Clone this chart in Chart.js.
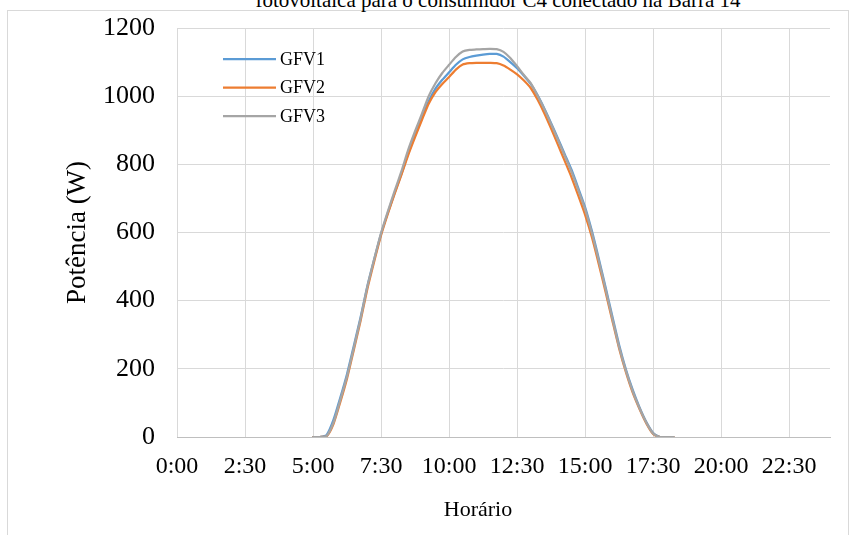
<!DOCTYPE html>
<html>
<head>
<meta charset="utf-8">
<script src="https://cdn.jsdelivr.net/npm/chart.js@4/dist/chart.umd.min.js"></script>
<style>
  html, body { margin: 0; padding: 0; background: #fff; overflow: hidden; }
  #wrap { position: relative; width: 864px; height: 535px; overflow: hidden; }
  #frame { position: absolute; left: 7px; top: 10px; width: 842px; height: 560px; border: 1px solid #d9d9d9; box-sizing: border-box; }
  #titulo { position: absolute; left: 0; top: -12px; width: 996px; text-align: center; white-space: nowrap;
            font-family: "Liberation Serif", serif; font-size: 21px; line-height: 24px; color: #000; }
  #grafico { position: absolute; left: 0; top: 0; }
</style>
</head>
<body>
<div id="wrap">
  <div id="frame"></div>
  <div id="titulo">fotovoltaica para o consumidor C4 conectado na Barra 14</div>
  <canvas id="grafico" width="864" height="535"></canvas>
</div>
<script>
// eixo x em minutos, pontos a cada 15 min a partir das 5:00
const inicioMin = 300;
const passoMin = 15;
const ticksHorario = ['0:00', '2:30', '5:00', '7:30', '10:00', '12:30', '15:00', '17:30', '20:00', '22:30'];
const ticksPotencia = [0, 200, 400, 600, 800, 1000, 1200];

const gfv1 = [0, 0, 6, 50, 115, 185, 268, 352, 444, 522, 596, 658, 716, 772, 832, 885, 935, 985, 1022, 1048,
  1070, 1092, 1108, 1115, 1119, 1122, 1124, 1124, 1116, 1100, 1082, 1060, 1036, 1003, 964, 921, 876, 830, 784,
  730, 674, 604, 524, 440, 354, 270, 198, 138, 87, 44, 12, 0, 0, 0];
const gfv2 = [0, 0, 2, 38, 102, 172, 256, 342, 436, 516, 592, 655, 714, 770, 828, 880, 930, 978, 1012, 1036,
  1056, 1078, 1093, 1097, 1098, 1098, 1098, 1097, 1090, 1078, 1064, 1046, 1024, 990, 950, 905, 858, 810, 762,
  708, 652, 586, 508, 426, 342, 260, 190, 130, 82, 40, 9, 0, 0, 0];
const gfv3 = [0, 0, 3, 42, 108, 178, 262, 348, 442, 522, 598, 662, 722, 780, 843, 897, 948, 1000, 1038, 1068,
  1092, 1115, 1131, 1136, 1137, 1138, 1139, 1138, 1130, 1112, 1088, 1062, 1038, 1002, 962, 918, 872, 825, 778,
  724, 668, 598, 518, 434, 348, 264, 194, 134, 84, 42, 10, 0, 0, 0];

const nomes = ['GFV1', 'GFV2', 'GFV3'];
const cores = ['#5B9BD5', '#ED7D31', '#A5A5A5'];
const tituloX = 'Horário';

const pontos = (serie) => serie.map((v, i) => ({ x: inicioMin + i * passoMin, y: v }));
const fonte = "'Liberation Serif', 'Times New Roman', serif";

// legenda dentro da área do gráfico + título do eixo x (deslocado, como no original)
const extras = {
  id: 'extras',
  afterDraw(chart) {
    const ctx = chart.ctx;
    ctx.save();
    ctx.font = '18px ' + fonte;
    ctx.textBaseline = 'middle';
    ctx.fillStyle = '#000';
    chart.data.datasets.forEach((ds, i) => {
      const y = 59 + i * 28.5;
      ctx.strokeStyle = ds.borderColor;
      ctx.lineWidth = 2.25;
      ctx.beginPath();
      ctx.moveTo(223, y);
      ctx.lineTo(276, y);
      ctx.stroke();
      ctx.fillText(ds.label, 280, y + 1);
    });
    ctx.font = '22px ' + fonte;
    ctx.textAlign = 'center';
    ctx.fillText(tituloX, 478, 510);
    ctx.restore();
  }
};

const ctx = document.getElementById('grafico').getContext('2d');
new Chart(ctx, {
  type: 'line',
  data: {
    datasets: [
      { label: nomes[0], data: pontos(gfv1), borderColor: cores[0], order: 3 },
      { label: nomes[1], data: pontos(gfv2), borderColor: cores[1], order: 2 },
      { label: nomes[2], data: pontos(gfv3), borderColor: cores[2], order: 1 }
    ]
  },
  options: {
    responsive: false,
    animation: false,
    devicePixelRatio: 1,
    layout: { padding: { left: 60, top: 28, right: 34, bottom: 8 } },
    elements: {
      point: { radius: 0 },
      line: { borderWidth: 2.25, tension: 0.2, fill: false, borderCapStyle: 'round', borderJoinStyle: 'round' }
    },
    plugins: {
      legend: { display: false },
      tooltip: { enabled: false }
    },
    scales: {
      x: {
        type: 'linear',
        min: 0,
        max: 1440,
        afterBuildTicks: (s) => { s.ticks = ticksHorario.map((t, i) => ({ value: i * 150 })); },
        afterFit: (s) => { s.height = 90; s.paddingLeft = 0; s.paddingRight = 0; },
        grid: { color: '#d9d9d9', lineWidth: 1, drawTicks: false },
        border: { color: '#bfbfbf', width: 1 },
        ticks: {
          color: '#000',
          font: { family: fonte, size: 24 },
          padding: 15,
          maxRotation: 0,
          autoSkip: false,
          callback: (v) => ticksHorario[Math.round(v / 150)]
        },
        title: { display: false }
      },
      y: {
        min: 0,
        max: 1200,
        afterBuildTicks: (s) => { s.ticks = ticksPotencia.map((v) => ({ value: v })); },
        afterFit: (s) => { s.width = 117; s.paddingTop = 0; s.paddingBottom = 0; },
        grid: { color: '#d9d9d9', lineWidth: 1, drawTicks: false },
        border: { display: false },
        ticks: { color: '#000', font: { family: fonte, size: 26 }, padding: 22, callback: (v) => String(v) },
        title: { display: true, text: 'Potência (W)', color: '#000', font: { family: fonte, size: 27 }, padding: { top: 2, bottom: 4 } }
      }
    }
  },
  plugins: [extras]
});
</script>
</body>
</html>
